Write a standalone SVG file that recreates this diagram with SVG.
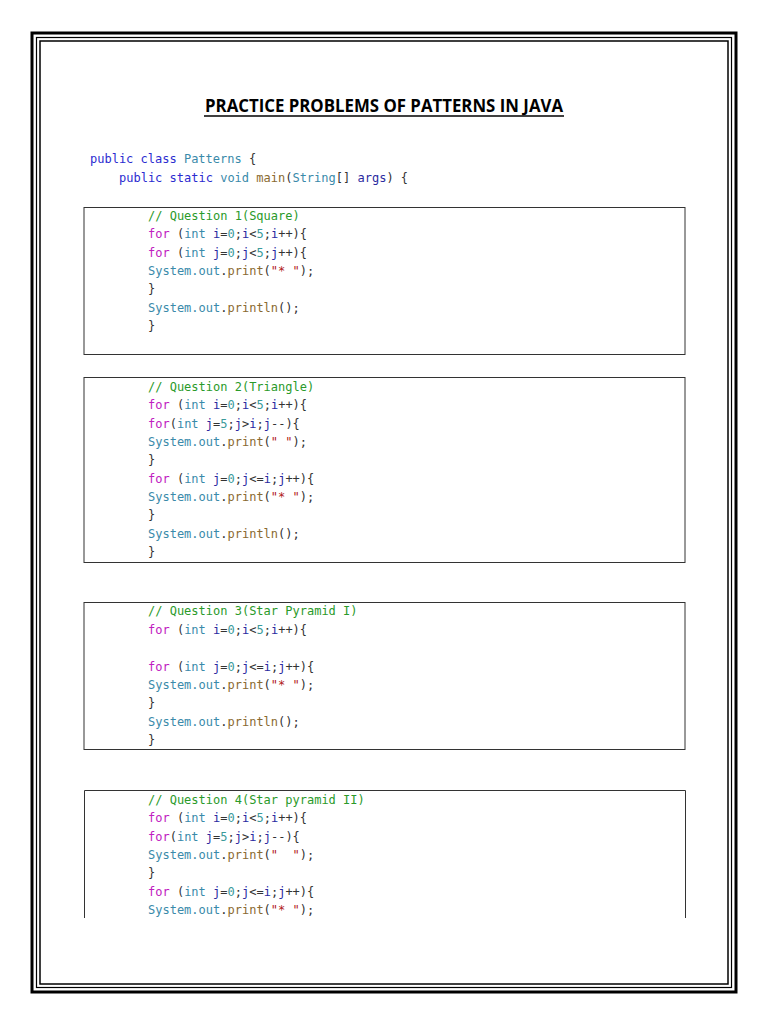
<svg xmlns="http://www.w3.org/2000/svg" width="768" height="1024" viewBox="0 0 768 1024">
<style>
.c{font-family:"DejaVu Sans Mono","Liberation Mono",monospace;font-size:12px;fill:#333}
.k{fill:#c020c0}.t{fill:#3a8aaa}.b{fill:#2b2bd0}.g{fill:#2a9a2a}.v{fill:#2a2aa0}.n{fill:#3a9a9a}.m{fill:#8a6a30}.s{fill:#b02020}
.box{fill:none;stroke:#333;stroke-width:1}
</style>
<rect width="768" height="1024" fill="#fff"/>
<g id="border" fill="none" stroke="#000">
<rect x="32" y="33" width="704" height="959" stroke-width="3"/>
<rect x="36.5" y="37.5" width="695" height="950" stroke-width="1.2"/>
<rect x="40" y="41" width="688" height="943" stroke-width="1.5"/>
</g>
<g id="title">
<text x="384" y="112" text-anchor="middle" font-family="Open Sans, sans-serif" font-weight="bold" font-size="17" textLength="358" lengthAdjust="spacingAndGlyphs" fill="#000">PRACTICE PROBLEMS OF PATTERNS IN JAVA</text>
<line x1="204" y1="116" x2="564" y2="116" stroke="#000" stroke-width="1.3"/>
</g>
<g id="header" class="c">
<text x="90" y="163"><tspan class="b">public class </tspan><tspan class="t">Patterns</tspan> {</text>
<text x="119" y="182"><tspan class="b">public static </tspan><tspan class="t">void </tspan><tspan class="m">main</tspan>(<tspan class="t">String</tspan>[] <tspan class="v">args</tspan>) {</text>
</g>
<g id="q1" class="c">
<rect class="box" x="84" y="207.5" width="601" height="147"/>
<text x="148" y="220" class="g">// Question 1(Square)</text>
<text x="148" y="238"><tspan class="k">for</tspan> (<tspan class="t">int </tspan><tspan class="v">i</tspan>=<tspan class="n">0</tspan>;<tspan class="v">i</tspan>&lt;<tspan class="n">5</tspan>;<tspan class="v">i</tspan>++){</text>
<text x="148" y="257"><tspan class="k">for</tspan> (<tspan class="t">int </tspan><tspan class="v">j</tspan>=<tspan class="n">0</tspan>;<tspan class="v">j</tspan>&lt;<tspan class="n">5</tspan>;<tspan class="v">j</tspan>++){</text>
<text x="148" y="275"><tspan class="t">System.out</tspan>.<tspan class="m">print</tspan>(<tspan class="s">"* "</tspan>);</text>
<text x="148" y="293">}</text>
<text x="148" y="312"><tspan class="t">System.out</tspan>.<tspan class="m">println</tspan>();</text>
<text x="148" y="330">}</text>
</g>
<g id="q2" class="c">
<rect class="box" x="84" y="377.5" width="601" height="185"/>
<text x="148" y="391" class="g">// Question 2(Triangle)</text>
<text x="148" y="409"><tspan class="k">for</tspan> (<tspan class="t">int </tspan><tspan class="v">i</tspan>=<tspan class="n">0</tspan>;<tspan class="v">i</tspan>&lt;<tspan class="n">5</tspan>;<tspan class="v">i</tspan>++){</text>
<text x="148" y="428"><tspan class="k">for</tspan>(<tspan class="t">int </tspan><tspan class="v">j</tspan>=<tspan class="n">5</tspan>;<tspan class="v">j</tspan>&gt;<tspan class="v">i</tspan>;<tspan class="v">j</tspan>--){</text>
<text x="148" y="446" xml:space="preserve"><tspan class="t">System.out</tspan>.<tspan class="m">print</tspan>(<tspan class="s">" "</tspan>);</text>
<text x="148" y="464">}</text>
<text x="148" y="483"><tspan class="k">for</tspan> (<tspan class="t">int </tspan><tspan class="v">j</tspan>=<tspan class="n">0</tspan>;<tspan class="v">j</tspan>&lt;=<tspan class="v">i</tspan>;<tspan class="v">j</tspan>++){</text>
<text x="148" y="501"><tspan class="t">System.out</tspan>.<tspan class="m">print</tspan>(<tspan class="s">"* "</tspan>);</text>
<text x="148" y="519">}</text>
<text x="148" y="538"><tspan class="t">System.out</tspan>.<tspan class="m">println</tspan>();</text>
<text x="148" y="556">}</text>
</g>
<g id="q3" class="c">
<rect class="box" x="84" y="602.5" width="601" height="147"/>
<text x="148" y="615" class="g">// Question 3(Star Pyramid I)</text>
<text x="148" y="634"><tspan class="k">for</tspan> (<tspan class="t">int </tspan><tspan class="v">i</tspan>=<tspan class="n">0</tspan>;<tspan class="v">i</tspan>&lt;<tspan class="n">5</tspan>;<tspan class="v">i</tspan>++){</text>
<text x="148" y="671"><tspan class="k">for</tspan> (<tspan class="t">int </tspan><tspan class="v">j</tspan>=<tspan class="n">0</tspan>;<tspan class="v">j</tspan>&lt;=<tspan class="v">i</tspan>;<tspan class="v">j</tspan>++){</text>
<text x="148" y="689"><tspan class="t">System.out</tspan>.<tspan class="m">print</tspan>(<tspan class="s">"* "</tspan>);</text>
<text x="148" y="707">}</text>
<text x="148" y="726"><tspan class="t">System.out</tspan>.<tspan class="m">println</tspan>();</text>
<text x="148" y="744">}</text>
</g>
<g id="q4" class="c">
<path class="box" d="M84.5 918V790.5H685.5V918"/>
<text x="148" y="804" class="g">// Question 4(Star pyramid II)</text>
<text x="148" y="822"><tspan class="k">for</tspan> (<tspan class="t">int </tspan><tspan class="v">i</tspan>=<tspan class="n">0</tspan>;<tspan class="v">i</tspan>&lt;<tspan class="n">5</tspan>;<tspan class="v">i</tspan>++){</text>
<text x="148" y="841"><tspan class="k">for</tspan>(<tspan class="t">int </tspan><tspan class="v">j</tspan>=<tspan class="n">5</tspan>;<tspan class="v">j</tspan>&gt;<tspan class="v">i</tspan>;<tspan class="v">j</tspan>--){</text>
<text x="148" y="859" xml:space="preserve"><tspan class="t">System.out</tspan>.<tspan class="m">print</tspan>(<tspan class="s">"  "</tspan>);</text>
<text x="148" y="877">}</text>
<text x="148" y="896"><tspan class="k">for</tspan> (<tspan class="t">int </tspan><tspan class="v">j</tspan>=<tspan class="n">0</tspan>;<tspan class="v">j</tspan>&lt;=<tspan class="v">i</tspan>;<tspan class="v">j</tspan>++){</text>
<text x="148" y="914"><tspan class="t">System.out</tspan>.<tspan class="m">print</tspan>(<tspan class="s">"* "</tspan>);</text>
</g>
</svg>
